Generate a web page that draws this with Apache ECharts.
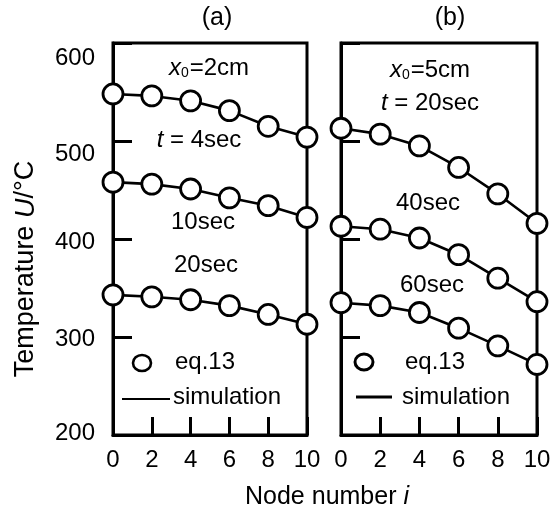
<!DOCTYPE html>
<html>
<head>
<meta charset="utf-8">
<script src="https://cdn.jsdelivr.net/npm/echarts@6/dist/echarts.min.js"></script>
<style>
  html, body { margin: 0; padding: 0; background: #fff; }
  #chart { width: 558px; height: 513px; }
</style>
</head>
<body>
<div id="chart"></div>
<script>
// Node positions along the bar
const nodes = [0, 2, 4, 6, 8, 10];

// (a) x0 = 2 cm : temperatures (°C) at t = 4, 10, 20 sec
const a_t4  = [548, 546, 541, 531, 515, 504];
const a_t10 = [458, 456, 451, 442, 434, 422];
const a_t20 = [343, 341, 338, 332, 323, 313];

// (b) x0 = 5 cm : temperatures (°C) at t = 20, 40, 60 sec
const b_t20 = [513, 507, 495, 473, 446, 416];
const b_t40 = [413, 410, 401, 384, 360, 336];
const b_t60 = [335, 332, 325, 309, 291, 272];

const xTicks = [0, 2, 4, 6, 8, 10];
const yTicks = [200, 300, 400, 500, 600];

const FONT = '"Liberation Sans", Arial, Helvetica, sans-serif';

const pairs = vals => nodes.map((n, i) => [n, vals[i]]);

function curve(vals, gi) {
  return {
    type: 'line',
    xAxisIndex: gi,
    yAxisIndex: gi,
    data: pairs(vals),
    symbol: 'circle',
    symbolSize: 20,
    showAllSymbol: true,
    clip: false,
    z: 5,
    itemStyle: { color: '#fff', borderColor: '#000', borderWidth: 2.8 },
    lineStyle: { color: '#000', width: 2.6 },
    emphasis: { disabled: true }
  };
}

function xAxis(gi) {
  return {
    type: 'value', gridIndex: gi,
    min: xTicks[0], max: xTicks[xTicks.length - 1], interval: 2,
    axisLine: { show: true, onZero: false, lineStyle: { color: '#000', width: 3 } },
    axisTick: { show: true, inside: true, length: 18, lineStyle: { color: '#000', width: 3 } },
    axisLabel: { show: true, margin: 13, fontSize: 24, color: '#000', fontFamily: FONT },
    splitLine: { show: false }
  };
}

// the upper labels of the temperature scale sit a little below their ticks
const yLabelStyle = {
  t600: { fontSize: 24, fontFamily: FONT, color: '#000', padding: [30, 0, 0, 0] },
  t500: { fontSize: 24, fontFamily: FONT, color: '#000', padding: [26, 0, 0, 0] },
  t400: { fontSize: 24, fontFamily: FONT, color: '#000', padding: [6, 0, 0, 0] },
  t300: { fontSize: 24, fontFamily: FONT, color: '#000', padding: [4, 0, 0, 0] },
  t200: { fontSize: 24, fontFamily: FONT, color: '#000', padding: [0, 0, 4, 0] }
};

function yAxis(gi, showLabels) {
  return {
    type: 'value', gridIndex: gi,
    min: yTicks[0], max: yTicks[yTicks.length - 1], interval: 100,
    axisLine: { show: true, onZero: false, lineStyle: { color: '#000', width: 3 } },
    axisTick: { show: true, inside: true, length: 19, lineStyle: { color: '#000', width: 3 } },
    axisLabel: {
      show: showLabels, margin: 18, fontSize: 24, color: '#000', fontFamily: FONT,
      formatter: v => '{t' + v + '|' + v + '}',
      rich: yLabelStyle
    },
    splitLine: { show: false }
  };
}

function label(text, x, y, extra) {
  return {
    type: 'text', x: x, y: y, z: 20,
    style: Object.assign({
      text: text, fill: '#000', fontSize: 24, fontFamily: FONT,
      textAlign: 'center', textVerticalAlign: 'middle'
    }, extra || {})
  };
}

const richBase = {
  n: { fontSize: 24, fontFamily: FONT, fill: '#000' },
  i: { fontSize: 24, fontFamily: FONT, fontStyle: 'italic', fill: '#000' },
  s: { fontSize: 14, fontFamily: FONT, fill: '#000', verticalAlign: 'bottom', padding: [0, 1, 0, 0] }
};

const chart = echarts.init(document.getElementById('chart'), null, { renderer: 'canvas' });

chart.setOption({
  animation: false,
  backgroundColor: '#fff',
  grid: [
    { left: 113, top: 43, width: 194, height: 392, show: true, borderColor: '#000', borderWidth: 3, backgroundColor: 'transparent' },
    { left: 341, top: 43, width: 196, height: 392, show: true, borderColor: '#000', borderWidth: 3, backgroundColor: 'transparent' }
  ],
  xAxis: [xAxis(0), xAxis(1)],
  yAxis: [yAxis(0, true), yAxis(1, false)],
  series: [
    curve(a_t4, 0), curve(a_t10, 0), curve(a_t20, 0),
    curve(b_t20, 1), curve(b_t40, 1), curve(b_t60, 1)
  ],
  graphic: [
    // panel titles
    label('(a)', 217, 18, { fontSize: 25 }),
    label('(b)', 450, 18, { fontSize: 25 }),

    // panel (a) annotations
    label('{i|x}{s|0}{n|=2cm}', 209, 68, { rich: richBase }),
    label('{i|t}{n| = 4sec}', 199, 140, { rich: richBase }),
    label('10sec', 203, 222),
    label('20sec', 206, 265),

    // panel (b) annotations
    label('{i|x}{s|0}{n|=5cm}', 430, 70, { rich: richBase }),
    label('{i|t}{n| = 20sec}', 430, 103, { rich: richBase }),
    label('40sec', 428, 203),
    label('60sec', 432, 285),

    // legend, panel (a)
    { type: 'ellipse', z: 20, shape: { cx: 142, cy: 363, rx: 9, ry: 8 },
      style: { fill: '#fff', stroke: '#000', lineWidth: 2.6 } },
    label('eq.13', 175, 362, { textAlign: 'left' }),
    { type: 'line', z: 20, shape: { x1: 122, y1: 399, x2: 170, y2: 399 },
      style: { stroke: '#000', lineWidth: 2 } },
    label('simulation', 173, 397, { textAlign: 'left' }),

    // legend, panel (b)
    { type: 'ellipse', z: 20, shape: { cx: 364, cy: 362, rx: 9, ry: 8 },
      style: { fill: '#fff', stroke: '#000', lineWidth: 3 } },
    label('eq.13', 405, 362, { textAlign: 'left' }),
    { type: 'line', z: 20, shape: { x1: 356, y1: 397, x2: 392, y2: 397 },
      style: { stroke: '#000', lineWidth: 3 } },
    label('simulation', 402, 397, { textAlign: 'left' }),

    // axis titles
    label('Node number {i|i}', 327, 497, {
      rich: { i: { fontSize: 25, fontFamily: FONT, fontStyle: 'italic', fill: '#000' } },
      fontSize: 25
    }),
    {
      type: 'text', x: 26, y: 269, rotation: Math.PI / 2, z: 20,
      style: {
        text: '{n|Temperature }{i|U}{n|/°C}',
        textAlign: 'center', textVerticalAlign: 'middle',
        rich: {
          n: { fontSize: 27, fontFamily: FONT, fill: '#000' },
          i: { fontSize: 27, fontFamily: FONT, fontStyle: 'italic', fill: '#000' }
        }
      }
    }
  ]
});
</script>
</body>
</html>
